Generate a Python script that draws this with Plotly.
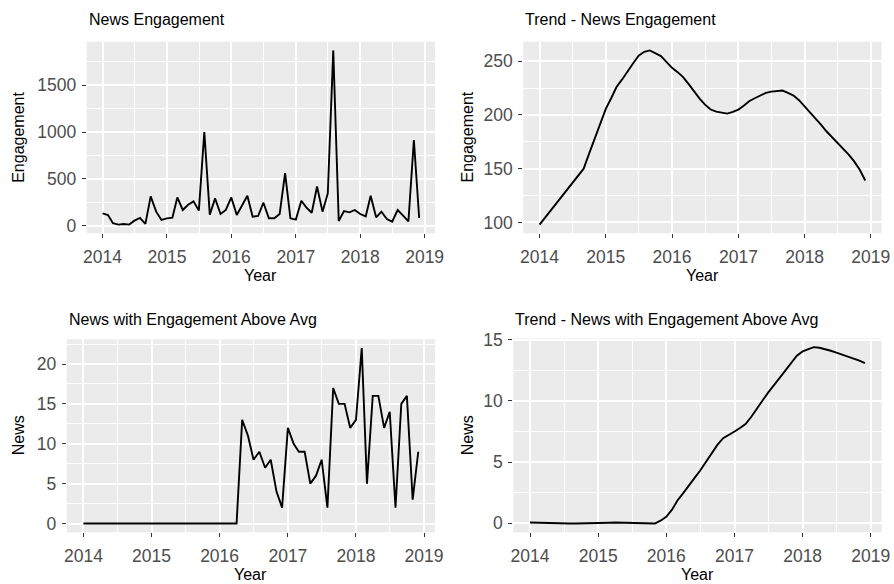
import pandas as pd
import plotly.graph_objects as go

# ---- data ----
months = pd.date_range("2014-01-01", periods=60, freq="MS")

engagement = [
    131, 113, 25, 11, 18, 11, 53, 82, 18, 312, 149, 60,
    78, 85, 301, 167, 223, 259, 160, 1000, 117, 291, 124, 167,
    301, 113, 213, 319, 96, 103, 245, 78, 78, 124, 560, 78,
    64, 266, 195, 138, 418, 149, 344, 1872, 50, 156, 142, 167,
    124, 99, 319, 89, 149, 71, 43, 167, 106, 46, 915, 82,
]

trend_engagement = [
    98, 104.5, 111, 117.5, 124, 130.5, 137, 143.5, 150, 164, 178, 191.6,
    205.6, 216, 226, 233, 240.7, 248, 255, 258.7, 260, 257.5, 254.7, 249.4,
    243.8, 239.8, 235.4, 228.9, 222, 215.2, 209.6, 205, 203, 201.9, 201.2, 202.8,
    205, 208.7, 212.7, 215.5, 218, 220.5, 221.7, 222, 222.7, 220.5, 218, 213.7,
    208, 202.5, 197.2, 191, 184.8, 179.5, 174, 168.6, 163, 156.8, 149, 139,
]

news_above_avg = [
    0, 0, 0, 0, 0, 0, 0, 0, 0, 0, 0, 0,
    0, 0, 0, 0, 0, 0, 0, 0, 0, 0, 0, 0,
    0, 0, 0, 0, 13, 11, 8, 9, 7, 8, 4, 2,
    12, 10, 9, 9, 5, 6, 8, 2, 17, 15, 15, 12,
    13, 22, 5, 16, 16, 12, 14, 2, 15, 16, 3, 9,
]

trend_news = [
    0.05, 0.03, 0.01, -0.01, -0.02, -0.03, -0.03, -0.03, -0.03, -0.03, -0.03, -0.03,
    -0.02, 0.0, 0.03, 0.05, 0.04, 0.02, 0.0, -0.02, -0.03, -0.03, -0.03, 0.2,
    0.52, 1.1, 1.85, 2.45, 3.1, 3.7, 4.3, 5.0, 5.7, 6.4, 6.95, 7.2,
    7.5, 7.8, 8.1, 8.7, 9.4, 10.05, 10.7, 11.35, 11.9, 12.5, 13.1, 13.7,
    14.05, 14.25, 14.4, 14.35, 14.25, 14.1, 13.95, 13.8, 13.65, 13.5, 13.3, 13.1,
]

titles = ["News Engagement", "Trend - News Engagement",
          "News with Engagement Above Avg", "Trend - News with Engagement Above Avg"]
y_titles = ["Engagement", "Engagement", "News", "News"]
x_title = "Year"
y_ticks = [[0, 500, 1000, 1500], [100, 150, 200, 250], [0, 5, 10, 15, 20], [0, 5, 10, 15]]
y_minor = [250, 25, 2.5, 2.5]
series = [engagement, trend_engagement, news_above_avg, trend_news]

# ---- layout (pixels) ----
W, H = 894, 584
panels = [  # left, right, top, bottom in px
    (86.7, 435.0, 41.7, 233.3),
    (523.3, 881.5, 41.7, 233.3),
    (66.7, 435.0, 339.3, 532.3),
    (513.3, 881.7, 338.3, 532.3),
]
ytitle_x = [18.3, 467, 18.5, 467]
title_y = [19.5, 19.5, 319, 319]

FONT = "Liberation Sans, Arial, sans-serif"
fig = go.Figure()
annotations = []

def yrange(vals):
    lo, hi = min(vals), max(vals)
    s = hi - lo
    return [lo - 0.05 * s, hi + 0.05 * s]

span_days = (months[-1] - months[0]).days
pad = pd.Timedelta(days=span_days * 0.05)
xr = [months[0] - pad, months[-1] + pad]

for k in range(4):
    l, r, t, b = panels[k]
    n = "" if k == 0 else str(k + 1)
    fig.add_trace(go.Scatter(
        x=months, y=series[k], mode="lines",
        line=dict(color="black", width=1.9),
        xaxis="x" + n, yaxis="y" + n, showlegend=False,
        hoverinfo="x+y",
    ))
    common = dict(
        automargin=False,
        showgrid=True, gridcolor="white", gridwidth=1.6,
        zeroline=False, showline=False,
        ticks="outside", ticklen=4, tickwidth=1.1, tickcolor="#333333",
        tickfont=dict(family=FONT, size=17.5, color="#4D4D4D"),
    )
    fig.update_layout(**{
        "xaxis" + n: dict(
            common,
            domain=[l / W, r / W], anchor="y" + n,
            type="date", range=xr,
            tick0="2014-01-01", dtick="M12", tickformat="%Y",
            ticklabelstandoff=4,
            minor=dict(tick0="2014-07-02", dtick="M12", showgrid=True,
                       gridcolor="white", gridwidth=0.8, ticks=""),
        ),
        "yaxis" + n: dict(
            common,
            domain=[1 - b / H, 1 - t / H], anchor="x" + n,
            range=yrange(series[k]),
            tickmode="array", tickvals=y_ticks[k],
            ticklabelstandoff=2,
            minor=dict(dtick=y_minor[k] * 2, tick0=y_minor[k], showgrid=True,
                       gridcolor="white", gridwidth=0.8, ticks=""),
        ),
    })
    annotations.append(dict(
        text=titles[k], x=l / W, y=1 - title_y[k] / H, xref="paper", yref="paper",
        xanchor="left", yanchor="middle", showarrow=False,
        font=dict(family=FONT, size=16, color="black"),
    ))
    annotations.append(dict(
        text=x_title, x=(l + r) / 2 / W, y=1 - (b + 42) / H, xref="paper", yref="paper",
        xanchor="center", yanchor="middle", showarrow=False,
        font=dict(family=FONT, size=16, color="black"),
    ))
    annotations.append(dict(
        text=y_titles[k], x=ytitle_x[k] / W, y=1 - (t + b) / 2 / H, xref="paper", yref="paper",
        xanchor="center", yanchor="middle", showarrow=False, textangle=-90,
        font=dict(family=FONT, size=16, color="black"),
    ))

fig.update_layout(
    width=W, height=H,
    margin=dict(l=0, r=0, t=0, b=0),
    paper_bgcolor="white", plot_bgcolor="#EBEBEB",
    annotations=annotations,
    font=dict(family=FONT),
)

fig.write_html(
    "out.html",
    config={"displayModeBar": False},
    post_script="document.body.style.margin='0px';document.body.style.overflow='hidden';",
)
